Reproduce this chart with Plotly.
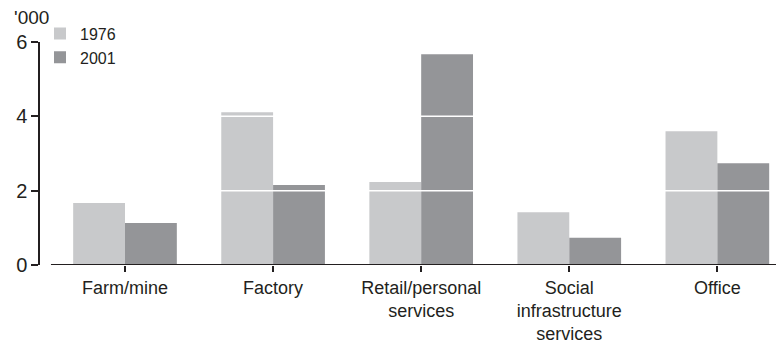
import plotly.graph_objects as go

categories = ["Farm/mine", "Factory", "Retail/personal<br>services", "Social<br>infrastructure<br>services", "Office"]
values_1976 = [1.67, 4.11, 2.23, 1.42, 3.60]
values_2001 = [1.13, 2.15, 5.67, 0.73, 2.74]
series_names = ["1976", "2001"]
y_ticks = [0, 2, 4, 6]
unit_label = "'000"

FONT = "Liberation Sans, Arial, sans-serif"
TXT = "#231f20"

fig = go.Figure()
fig.add_trace(go.Bar(x=categories, y=values_1976, name=series_names[0], marker_color="#c8c9cb", marker_line_width=0))
fig.add_trace(go.Bar(x=categories, y=values_2001, name=series_names[1], marker_color="#949598", marker_line_width=0))

fig.update_layout(
    width=784, height=347,
    margin=dict(l=32, r=8, t=34, b=90),
    paper_bgcolor="white", plot_bgcolor="white",
    barmode="group", bargap=0.3, bargroupgap=0,
    font=dict(family=FONT, color=TXT, size=17),
    legend=dict(x=0.0, y=1.114, xanchor="left", yanchor="top", font=dict(size=16),
                itemwidth=30, tracegroupgap=0, bgcolor="rgba(0,0,0,0)"),
    xaxis=dict(range=[-0.574, 4.45], showline=False, showgrid=False, zeroline=False,
               ticks="outside", ticklen=6, tickcolor=TXT, tickwidth=1.5,
               tickfont=dict(size=18), automargin=False),
    yaxis=dict(range=[0, 6], tickvals=y_ticks, showline=True, linecolor=TXT, linewidth=1.5,
               showgrid=False, zeroline=False, ticks="outside", ticklen=7, tickcolor=TXT,
               tickwidth=1.5, tickfont=dict(size=20), automargin=False),
    annotations=[dict(text=unit_label, xref="paper", yref="paper", x=-28/744, y=(265 - 18) / 223,
                      xanchor="left", yanchor="middle", showarrow=False, font=dict(size=19))],
    shapes=[
        dict(type="line", xref="x", yref="y", x0=-0.5, x1=4.45, y0=0, y1=0,
             line=dict(color=TXT, width=1.8), layer="above"),
        dict(type="line", xref="paper", yref="y", x0=0.005, x1=1, y0=2, y1=2,
             line=dict(color="white", width=1.5), layer="above"),
        dict(type="line", xref="paper", yref="y", x0=0.005, x1=1, y0=4, y1=4,
             line=dict(color="white", width=1.5), layer="above"),
    ],
)

fig.write_html("out.html")
